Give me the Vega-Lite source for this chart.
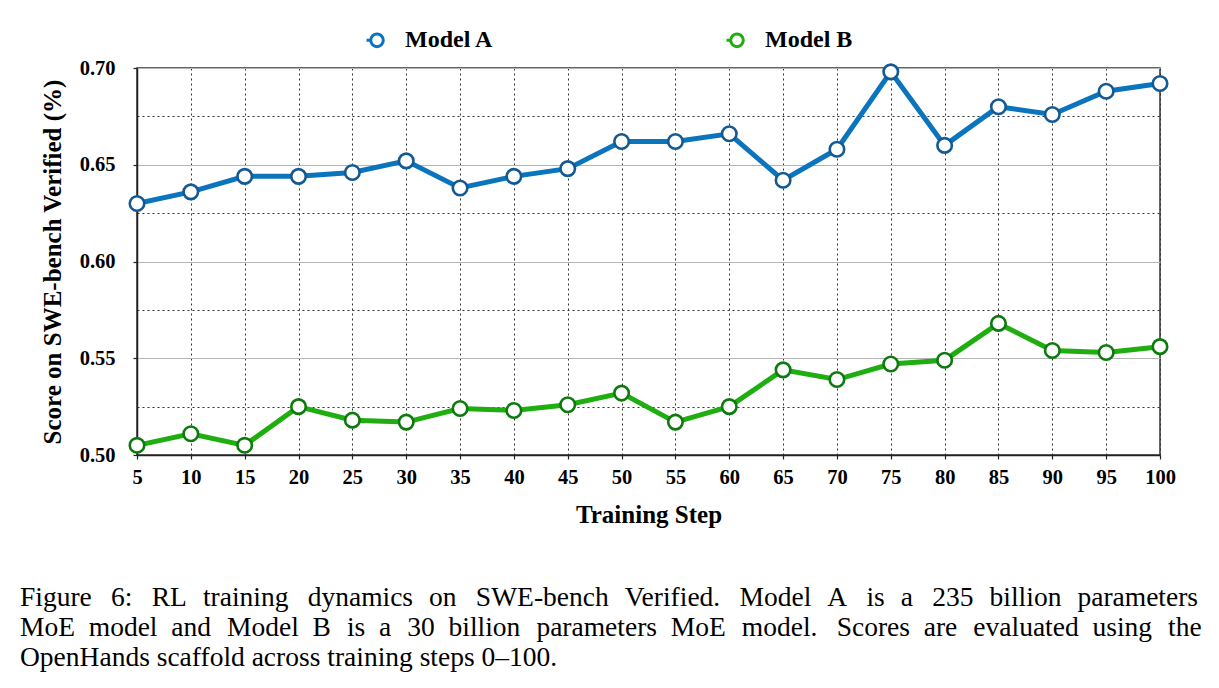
{
  "$schema": "https://vega.github.io/schema/vega-lite/v6.json",
  "width": 1023,
  "height": 387,
  "autosize": {"type": "none"},
  "padding": {"left": 137, "top": 68, "right": 59, "bottom": 233},
  "background": "white",
  "title": {
    "text": [
      "Figure\u2002\u20096:\u2002\u2009RL\u2002\u200atraining\u2002\u2009dynamics\u2002\u200aon\u2002\u2009SWE-bench\u2002\u200aVerified.\u2002\u2009Model\u2002\u200aA\u2002\u2009is\u2002\u200aa\u2002\u2009235\u2002\u200abillion\u2002\u200aparameters",
      "MoE\u2002model\u2002and\u2002\u200aModel\u2002B\u2002\u200ais\u2002a\u2002\u200a30\u2002billion\u2002\u200aparameters\u2002MoE\u2002\u200amodel.\u2002\u2009Scores\u2002are\u2002\u200aevaluated\u2002using\u2002\u200athe",
      "OpenHands scaffold across training steps 0–100."
    ],
    "orient": "bottom",
    "anchor": "start",
    "frame": "group",
    "dx": -117,
    "offset": 56,
    "font": "Liberation Serif",
    "fontSize": 27.5,
    "fontWeight": "normal",
    "lineHeight": 30,
    "color": "#000"
  },
  "config": {
    "title": {"font": "Liberation Serif", "fontWeight": "normal"},
    "view": {"stroke": "#333", "strokeWidth": 1.5},
    "axis": {
      "labelFont": "Liberation Serif",
      "labelFontWeight": "bold",
      "labelFontSize": 20.5,
      "labelColor": "#000",
      "labelFlush": false,
      "titleFont": "Liberation Serif",
      "titleFontWeight": "bold",
      "titleFontSize": 25,
      "titleColor": "#000",
      "domainColor": "#222",
      "domainWidth": 1.5,
      "tickColor": "#222",
      "tickWidth": 1.2,
      "tickSize": 4
    }
  },
  "data": {
    "values": [
      {"step": 5, "model": "Model A", "score": 0.630},
      {"step": 10, "model": "Model A", "score": 0.636},
      {"step": 15, "model": "Model A", "score": 0.644},
      {"step": 20, "model": "Model A", "score": 0.644},
      {"step": 25, "model": "Model A", "score": 0.646},
      {"step": 30, "model": "Model A", "score": 0.652},
      {"step": 35, "model": "Model A", "score": 0.638},
      {"step": 40, "model": "Model A", "score": 0.644},
      {"step": 45, "model": "Model A", "score": 0.648},
      {"step": 50, "model": "Model A", "score": 0.662},
      {"step": 55, "model": "Model A", "score": 0.662},
      {"step": 60, "model": "Model A", "score": 0.666},
      {"step": 65, "model": "Model A", "score": 0.642},
      {"step": 70, "model": "Model A", "score": 0.658},
      {"step": 75, "model": "Model A", "score": 0.698},
      {"step": 80, "model": "Model A", "score": 0.660},
      {"step": 85, "model": "Model A", "score": 0.680},
      {"step": 90, "model": "Model A", "score": 0.676},
      {"step": 95, "model": "Model A", "score": 0.688},
      {"step": 100, "model": "Model A", "score": 0.692},
      {"step": 5, "model": "Model B", "score": 0.505},
      {"step": 10, "model": "Model B", "score": 0.511},
      {"step": 15, "model": "Model B", "score": 0.505},
      {"step": 20, "model": "Model B", "score": 0.525},
      {"step": 25, "model": "Model B", "score": 0.518},
      {"step": 30, "model": "Model B", "score": 0.517},
      {"step": 35, "model": "Model B", "score": 0.524},
      {"step": 40, "model": "Model B", "score": 0.523},
      {"step": 45, "model": "Model B", "score": 0.526},
      {"step": 50, "model": "Model B", "score": 0.532},
      {"step": 55, "model": "Model B", "score": 0.517},
      {"step": 60, "model": "Model B", "score": 0.525},
      {"step": 65, "model": "Model B", "score": 0.544},
      {"step": 70, "model": "Model B", "score": 0.539},
      {"step": 75, "model": "Model B", "score": 0.547},
      {"step": 80, "model": "Model B", "score": 0.549},
      {"step": 85, "model": "Model B", "score": 0.568},
      {"step": 90, "model": "Model B", "score": 0.554},
      {"step": 95, "model": "Model B", "score": 0.553},
      {"step": 100, "model": "Model B", "score": 0.556}
    ]
  },
  "encoding": {
    "x": {
      "field": "step",
      "type": "quantitative",
      "scale": {"domain": [5, 100], "nice": false, "zero": false},
      "axis": {
        "title": "Training Step",
        "values": [5, 10, 15, 20, 25, 30, 35, 40, 45, 50, 55, 60, 65, 70, 75, 80, 85, 90, 95, 100],
        "labelPadding": 8,
        "titlePadding": 15,
        "grid": true,
        "gridColor": "#333",
        "gridDash": [2, 3],
        "gridWidth": 1
      }
    },
    "y": {
      "field": "score",
      "type": "quantitative",
      "scale": {"domain": [0.5, 0.7], "nice": false, "zero": false},
      "axis": {
        "title": "Score on SWE-bench Verified (%)",
        "values": [0.5, 0.525, 0.55, 0.575, 0.6, 0.625, 0.65, 0.675, 0.7],
        "labelExpr": "round(datum.value * 1000) % 50 == 0 ? format(datum.value, '.2f') : ''",
        "labelPadding": 18,
        "titlePadding": 14,
        "grid": true,
        "gridWidth": 1,
        "gridColor": {"condition": {"test": "round(datum.value * 1000) % 50 != 0", "value": "#333"}, "value": "#b5b5b5"},
        "gridDash": {"condition": {"test": "round(datum.value * 1000) % 50 != 0", "value": [2, 3]}, "value": []},
        "tickOpacity": {"condition": {"test": "round(datum.value * 1000) % 50 != 0", "value": 0}, "value": 1}
      }
    }
  },
  "layer": [
    {
      "mark": {"type": "line", "strokeWidth": 5},
      "encoding": {
        "color": {
          "field": "model",
          "type": "nominal",
          "scale": {"domain": ["Model A", "Model B"], "range": ["#0a74bd", "#1fae0f"]},
          "legend": {
            "title": null,
            "orient": "none",
            "legendX": 228,
            "legendY": -40,
            "direction": "horizontal",
            "labelFont": "Liberation Serif",
            "labelFontWeight": "bold",
            "labelFontSize": 24,
            "labelColor": "#000",
            "labelOffset": 16,
            "columnPadding": 226,
            "symbolType": "M-1,0L-0.6,0M0.6,0A0.6,0.6,0,1,1,-0.6,0A0.6,0.6,0,1,1,0.6,0Z",
            "symbolSize": 440,
            "symbolStrokeWidth": 3,
            "encode": {
              "symbols": {"update": {"fill": {"value": "white"}, "strokeWidth": {"value": 3}}}
            }
          }
        }
      }
    },
    {
      "mark": {"type": "point", "filled": false, "fill": "white", "fillOpacity": 1, "size": 210, "strokeWidth": 2.6, "opacity": 1},
      "encoding": {
        "stroke": {
          "field": "model",
          "type": "nominal",
          "scale": {"domain": ["Model A", "Model B"], "range": ["#135a94", "#0c7a0c"]},
          "legend": null
        }
      }
    }
  ]
}
